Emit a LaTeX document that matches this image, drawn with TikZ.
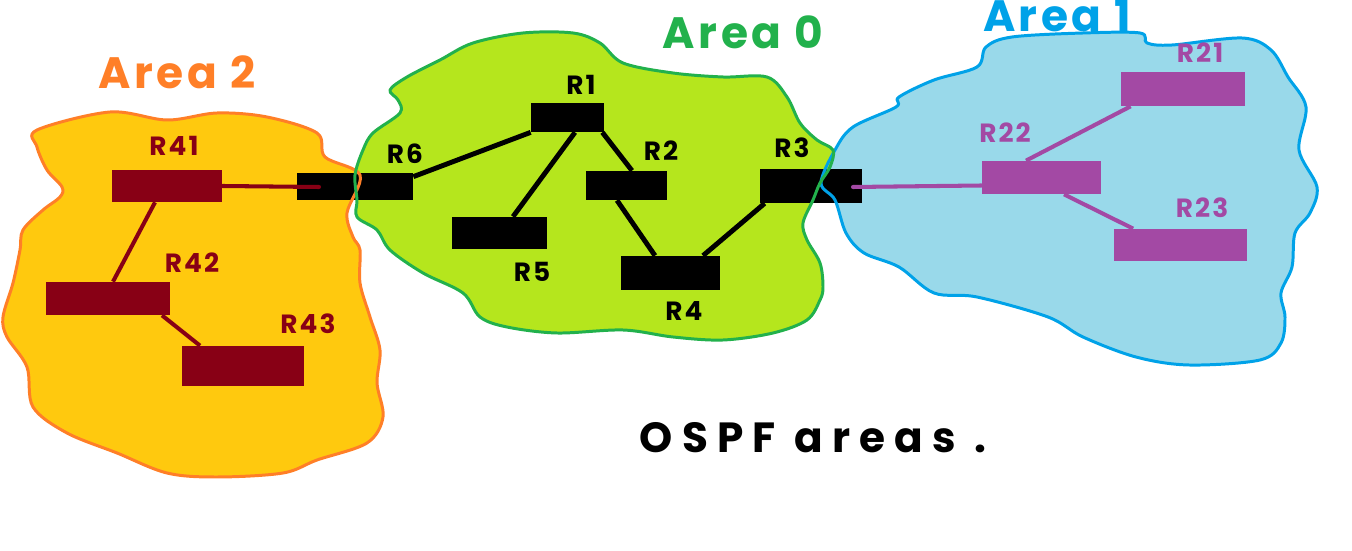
\documentclass[tikz,border=0pt]{standalone}
\usepackage{fontspec}
\usepackage{tikz}
\usetikzlibrary{positioning,calc}
\setmainfont{Poppins}
\newfontfamily\hand[LetterSpace=8]{Poppins}
\newfontfamily\handwide[LetterSpace=22]{Poppins}

\definecolor{goldfill}{HTML}{FFC90E}
\definecolor{orangeline}{HTML}{FF7F27}
\definecolor{limefill}{HTML}{B5E61D}
\definecolor{greenline}{HTML}{22B14C}
\definecolor{skyfill}{HTML}{99D9EA}
\definecolor{blueline}{HTML}{00A2E8}
\definecolor{darkred}{HTML}{880015}
\definecolor{plum}{HTML}{A349A4}

% blob outlines of the three areas (pixel units)
\newcommand{\areatwoshape}{plot[smooth cycle, tension=0.55] coordinates {
  (37,130) (110,112) (167,120) (217,113) (267,117) (317,133) (325,157) (360,175)
  (347,213) (353,237) (360,250) (360,283) (370,317) (380,350) (377,383) (383,417)
  (367,443) (317,460) (283,473) (217,477) (167,473) (117,453) (67,433) (33,407)
  (27,367) (7,337) (3,317) (13,283) (20,250) (23,230) (43,210) (60,197) (62,187)
  (47,170) (37,147)}}
\newcommand{\areazeroshape}{plot[smooth cycle, tension=0.55] coordinates {
  (355,175) (363,150) (373,133) (400,113) (398,100) (390,90) (407,77) (440,60)
  (473,43) (523,33) (573,33) (600,43) (623,63) (673,73) (723,77) (767,77) (787,97)
  (800,123) (817,140) (833,150) (830,167) (820,183) (813,200) (803,223) (807,240)
  (820,263) (823,287) (820,300) (807,320) (773,333) (723,340) (673,337) (623,330)
  (557,333) (507,327) (480,317) (463,293) (423,273) (390,250) (377,230) (357,217)
  (357,200)}}
\newcommand{\areaoneshape}{plot[smooth cycle, tension=0.55] coordinates {
  (821,183) (835,150) (853,127) (896,107) (899,97) (934,80) (977,67) (986,47)
  (1012,37) (1083,33) (1140,33) (1147,43) (1172,45) (1242,38) (1271,50) (1288,77)
  (1306,107) (1299,150) (1317,187) (1310,213) (1295,233) (1292,267) (1281,293)
  (1285,317) (1281,343) (1260,360) (1189,365) (1136,357) (1083,337) (1048,317)
  (977,297) (934,293) (899,267) (864,253) (846,233) (835,200)}}

\begin{document}
\begin{tikzpicture}[x=0.2mm, y=-0.2mm,
  router/.style={draw=none, inner sep=0pt, rectangle},
  link/.style={line width=2.8pt},
  rlabel/.style={font=\hand\bfseries\fontsize{15}{15}\selectfont, inner sep=0pt},
  alabel/.style={font=\hand\bfseries\fontsize{25}{25}\selectfont, inner sep=0pt},
  outline/.style={line width=1.7pt, line join=round}
]
  \useasboundingbox (0,0) rectangle (1352,551);

  % area fills
  \fill[goldfill] \areatwoshape;
  \fill[skyfill] \areaoneshape;
  \fill[limefill] \areazeroshape;

  % Area 2 routers
  \node[router, fill=darkred, minimum width=22mm, minimum height=6.4mm] (r41) at (167,186) {};
  \node[router, fill=darkred, minimum width=24.8mm, minimum height=6.6mm] (r42) at (108,298.5) {};
  \node[router, fill=darkred, minimum width=24.4mm, minimum height=8mm] (r43) at (243,366) {};

  % Area 0 routers
  \node[router, fill=black, minimum width=23.2mm, minimum height=5.4mm] (r6) at (355,186.5) {};
  \node[router, fill=black, minimum width=14.6mm, minimum height=5.8mm] (r1) at (567.5,117.5) {};
  \node[router, fill=black, minimum width=16.2mm, minimum height=5.8mm] (r2) at (626.5,185.5) {};
  \node[router, fill=black, minimum width=19mm, minimum height=6.4mm] (r5) at (499.5,233) {};
  \node[router, fill=black, minimum width=19.8mm, minimum height=6.8mm] (r4) at (670.5,273) {};
  \node[router, fill=black, minimum width=20.4mm, minimum height=6.8mm] (r3) at (811,186) {};

  % Area 1 routers
  \node[router, fill=plum, minimum width=23.8mm, minimum height=6.6mm] (r22) at (1041.5,177.5) {};
  \node[router, fill=plum, minimum width=24.8mm, minimum height=6.8mm] (r21) at (1183,89) {};
  \node[router, fill=plum, minimum width=26.6mm, minimum height=6.4mm] (r23) at (1180,245) {};

  \coordinate (r6tip) at (319,187);
  \coordinate (r3tip) at (853,187);

  % links
  \draw[link, line width=2.3pt, darkred] ($(r41.south)+(-12,0)$) -- ($(r42.north)+(5,0)$);
  \draw[link, line width=2.3pt, darkred] ($(r42.south)+(54,0)$) -- ($(r43.north)+(-43,0)$);
  \draw[link, line width=2.3pt, darkred, line cap=round] (r41.east) -- (r6tip);
  \draw[link] ($(r6.north east)+(0,4)$) -- (r1.south west);
  \draw[link] ($(r1.south)+(7.5,0)$) -- ($(r5.north)+(13.5,0)$);
  \draw[link] ($(r1.south east)+(-2,0)$) -- ($(r2.north)+(5.5,0)$);
  \draw[link] ($(r2.south)+(-9.5,0)$) -- ($(r4.north)+(-15.5,0)$);
  \draw[link] ($(r4.north)+(32.5,0)$) -- ($(r3.south west)+(5,0)$);
  \draw[link, line width=2.3pt, plum, line cap=round] (r3tip) -- ($(r22.west)+(0,8)$);
  \draw[link, line width=2.3pt, plum] ($(r22.north)+(-15.5,0)$) -- ($(r21.south west)+(10,0)$);
  \draw[link, line width=2.3pt, plum] ($(r22.south)+(22.5,0)$) -- ($(r23.north west)+(20,0)$);

  % area outlines on top
  \draw[outline, orangeline] \areatwoshape;
  \draw[outline, blueline] \areaoneshape;
  \draw[outline, greenline] \areazeroshape;

  % router labels
  \node[rlabel, darkred] (l41) at (174,146) {R41};
  \node[rlabel, darkred] (l42) at (192,263) {R42};
  \node[rlabel, darkred] (l43) at (308,324) {R43};
  \node[rlabel] (l6) at (405,154) {R6};
  \node[rlabel] (l1) at (581,85) {R1};
  \node[rlabel] (l2) at (661,151) {R2};
  \node[rlabel] (l3) at (792,148) {R3};
  \node[rlabel] (l5) at (532,272) {R5};
  \node[rlabel] (l4) at (684,311) {R4};
  \node[rlabel, plum] (l22) at (1005,133) {R22};
  \node[rlabel, plum] (l21) at (1200,53) {R21};
  \node[rlabel, plum] (l23) at (1202,208) {R23};

  % area names and caption
  \node[alabel, orangeline] (a2) at (177,72) {Area 2};
  \node[alabel, greenline] (a0) at (743,32) {Area 0};
  \node[alabel, blueline] (a1) at (1057,16) {Area 1};
  \node[font=\handwide\bfseries\fontsize{24}{24}\selectfont, inner sep=0pt] (cap) at (813,438) {OSPF areas .};
\end{tikzpicture}
\end{document}
